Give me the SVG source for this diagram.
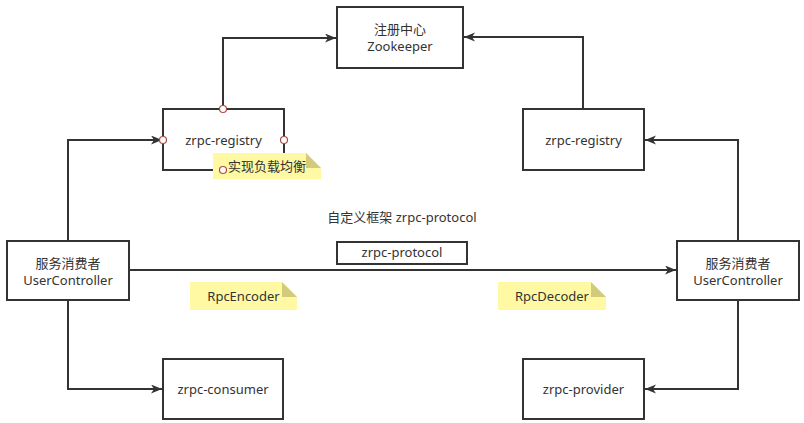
<svg xmlns="http://www.w3.org/2000/svg" width="804" height="423" viewBox="0 0 804 423">
<style>
.box{fill:#fff;stroke:#333;stroke-width:2}
.ln{fill:none;stroke:#333;stroke-width:2}
.t{font-family:"Noto Sans","Noto Sans CJK SC",sans-serif;font-size:13px;fill:#333;text-anchor:middle}
.note{fill:#fff9a4}
.fold{fill:#d2cb7c}
.pt{fill:#fff;stroke:#b04a45;stroke-width:1.2}
</style>
<defs>
<marker id="arr" markerUnits="userSpaceOnUse" markerWidth="12" markerHeight="10" refX="11" refY="4.5" orient="auto">
<path d="M0,0 L11,4.5 L0,9 L3,4.5 z" fill="#333"/>
</marker>
</defs>
<rect width="804" height="423" fill="#fff"/>
<g id="connectors">
<path class="ln" d="M223,109 V38 H336" marker-end="url(#arr)"/>
<path class="ln" d="M583,109 V37 H464" marker-end="url(#arr)"/>
<path class="ln" d="M68,241 V140 H162" marker-end="url(#arr)"/>
<path class="ln" d="M738,241 V140 H645" marker-end="url(#arr)"/>
<path class="ln" d="M129,270 H676" marker-end="url(#arr)"/>
<path class="ln" d="M68,300 V389 H162" marker-end="url(#arr)"/>
<path class="ln" d="M738,300 V389 H645" marker-end="url(#arr)"/>
</g>
<g id="zookeeper">
<rect class="box" x="337" y="7" width="126" height="61"/>
<text class="t" x="400" y="34">注册中心</text>
<text class="t" x="400" y="51">Zookeeper</text>
</g>
<g id="registry-left">
<rect class="box" x="163" y="109" width="121" height="61"/>
<text class="t" x="223.5" y="145">zrpc-registry</text>
</g>
<g id="registry-right">
<rect class="box" x="523" y="109" width="121" height="61"/>
<text class="t" x="583.5" y="145">zrpc-registry</text>
</g>
<g id="consumer-left">
<rect class="box" x="7" y="241" width="122" height="59"/>
<text class="t" x="68" y="268">服务消费者</text>
<text class="t" x="68" y="285">UserController</text>
</g>
<g id="consumer-right">
<rect class="box" x="677" y="241" width="122" height="59"/>
<text class="t" x="738" y="268">服务消费者</text>
<text class="t" x="738" y="285">UserController</text>
</g>
<g id="protocol-label">
<text class="t" x="402" y="222">自定义框架 zrpc-protocol</text>
</g>
<g id="protocol">
<rect class="box" x="337" y="242" width="130" height="22"/>
<text class="t" x="402" y="257">zrpc-protocol</text>
</g>
<g id="zrpc-consumer">
<rect class="box" x="163" y="359" width="120" height="60"/>
<text class="t" x="223" y="394">zrpc-consumer</text>
</g>
<g id="zrpc-provider">
<rect class="box" x="523" y="359" width="121" height="60"/>
<text class="t" x="583.5" y="394">zrpc-provider</text>
</g>
<g id="note-lb">
<path class="note" d="M213,153 H306 L321,168 V179 H213 Z"/>
<path class="fold" d="M306,153 V168 H321 Z"/>
<text class="t" x="267" y="171">实现负载均衡</text>
</g>
<g id="note-encoder">
<path class="note" d="M190,282 H282 L297,297 V310 H190 Z"/>
<path class="fold" d="M282,282 V297 H297 Z"/>
<text class="t" x="243.5" y="301">RpcEncoder</text>
</g>
<g id="note-decoder">
<path class="note" d="M498,282 H591 L606,297 V310 H498 Z"/>
<path class="fold" d="M591,282 V297 H606 Z"/>
<text class="t" x="552" y="301">RpcDecoder</text>
</g>
<g id="ports">
<circle class="pt" cx="223" cy="109" r="3.5"/>
<circle class="pt" cx="163" cy="140" r="3.5"/>
<circle class="pt" cx="284" cy="140" r="3.5"/>
<circle class="pt" cx="223" cy="170" r="3.5"/>
</g>
</svg>
